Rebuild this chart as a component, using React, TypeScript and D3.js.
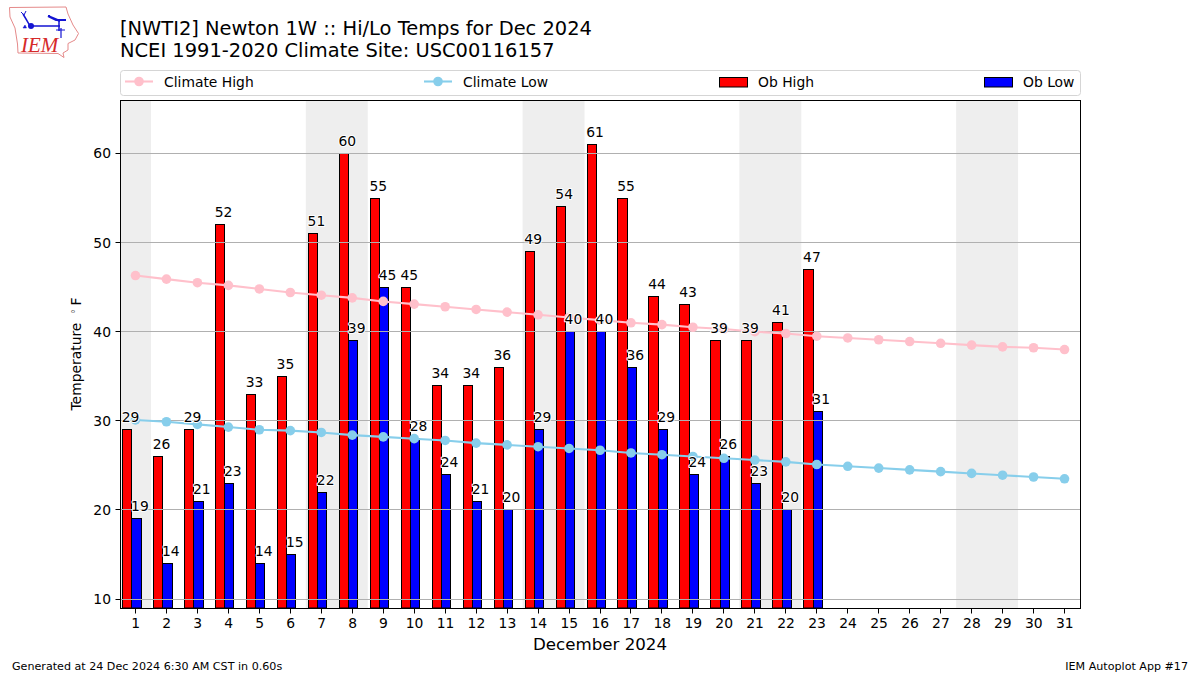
import React from "react";
import * as d3 from "d3";

const days = d3.range(1, 32);
const obHigh = [29, 26, 29, 52, 33, 35, 51, 60, 55, 45, 34, 34, 36, 49, 54, 61, 55, 44, 43, 39, 39, 41, 47];
const obLow = [19, 14, 21, 23, 14, 15, 22, 39, 45, 28, 24, 21, 20, 29, 40, 40, 36, 29, 24, 26, 23, 20, 31];
const climateHigh = [46.3, 45.9, 45.5, 45.2, 44.8, 44.4, 44.1, 43.8, 43.4, 43.1, 42.8, 42.5, 42.2, 41.9, 41.6, 41.3, 41.0, 40.8, 40.5, 40.3, 40.0, 39.8, 39.5, 39.3, 39.1, 38.9, 38.7, 38.5, 38.3, 38.2, 38.0];
const climateLow = [30.1, 29.9, 29.6, 29.3, 29.0, 28.9, 28.7, 28.4, 28.2, 28.0, 27.8, 27.5, 27.3, 27.1, 26.9, 26.7, 26.4, 26.2, 26.0, 25.8, 25.6, 25.4, 25.1, 24.9, 24.7, 24.5, 24.3, 24.1, 23.9, 23.7, 23.5];
const weekends: [number, number][] = [[0.5, 1.5], [6.5, 8.5], [13.5, 15.5], [20.5, 22.5], [27.5, 29.5]];
const yTicks = [10, 20, 30, 40, 50, 60];

const FONT = "'DejaVu Sans', sans-serif";
const x = d3.scaleLinear().domain([0.5, 31.5]).range([120, 1080]);
const y = d3.scaleLinear().domain([9, 66]).range([608, 100]);
const line = d3.line<number>().x((_, i) => x(days[i])).y((d) => y(d));
const barW = 0.3;
const redOff = -0.435;
const blueOff = redOff + barW;
const snap = (v: number) => Math.round(v) + 0.5;
const snapY = (v: number) => Math.floor(v) + 0.5;

function Series({ values, color }: { values: number[]; color: string }) {
  return (
    <g>
      <path d={line(values) ?? ""} fill="none" stroke={color} strokeWidth={2.08} />
      {values.map((v, i) => (
        <circle key={i} cx={x(days[i])} cy={y(v)} r={4.8} fill={color} />
      ))}
    </g>
  );
}

function Bars({ values, off, color }: { values: number[]; off: number; color: string }) {
  return (
    <g>
      {values.map((v, i) => {
        const x0 = snap(x(days[i] + off));
        const x1 = snap(x(days[i] + off + barW));
        const top = snapY(y(v));
        return (
          <rect key={i} x={x0} y={top} width={x1 - x0} height={608 - top} fill={color} stroke="#000" strokeWidth={1} />
        );
      })}
    </g>
  );
}

function Labels({ values, off }: { values: number[]; off: number }) {
  return (
    <g fontSize={13.89} textAnchor="middle">
      {values.map((v, i) => (
        <text
          key={i}
          x={x(days[i] + off + barW) - 0.7}
          y={y(v) - 7.5}
          fill="#000"
          stroke="#fff"
          strokeWidth={2}
          paintOrder="stroke"
          strokeLinejoin="round"
        >
          {v}
        </text>
      ))}
    </g>
  );
}

function Logo() {
  return (
    <g>
      <path
        d="M9.5,7.5 L66,7 L68,14 L73,25 L78.5,33.5 L75,40 L68,43.5 L68,50 L63,53 L64,57.5 L58,53.5 L18,53 L17.5,44 L15,28 L10,17 Z"
        fill="#fff"
        stroke="#e58a8a"
        strokeWidth={1}
      />
      <g stroke="#1414d2" fill="none">
        <path d="M30,26 H60 M59,21 V31 M23,14 L26,19 L30,26" strokeWidth={1.5} />
        <path d="M21,12 L24,15 M26,11 L24,15" strokeWidth={1} />
        <path d="M48,16 L56,20 H66 M48,16 L60,21" strokeWidth={2} />
        <circle cx={31} cy={26} r={3} fill="#1414d2" stroke="none" />
        <path d="M56,30 H65 M61,28 V38" strokeWidth={1.2} />
        <path d="M23,28 l2,-3 l1.5,3 z" fill="#1414d2" strokeWidth={0.5} />
      </g>
      <text x={21} y={52} fontFamily="'Liberation Serif', serif" fontStyle="italic" fontSize={21} fill="#d62a2a">
        IEM
      </text>
    </g>
  );
}

export default function App() {
  return (
    <svg
      width={1200}
      height={675}
      viewBox="0 0 1200 675"
      style={{ position: "absolute", left: 0, top: 0, display: "block", background: "#fff" }}
      fontFamily={FONT}
    >
      <Logo />
      <text x={120} y={35} fontSize={19.44}>[NWTI2] Newton 1W :: Hi/Lo Temps for Dec 2024</text>
      <text x={120} y={57} fontSize={19.44}>NCEI 1991-2020 Climate Site: USC00116157</text>

      {/* legend */}
      <rect x={120.5} y={70.5} width={960} height={25} rx={3} fill="#fff" stroke="#d5d5d5" strokeWidth={1} />
      <g fontSize={13.89}>
        <path d="M125,81.5 H153" stroke="pink" strokeWidth={2.08} />
        <circle cx={139} cy={81.5} r={4.8} fill="pink" />
        <text x={164} y={86.5}>Climate High</text>
        <path d="M424,81.5 H452" stroke="skyblue" strokeWidth={2.08} />
        <circle cx={438} cy={81.5} r={4.8} fill="skyblue" />
        <text x={463} y={86.5}>Climate Low</text>
        <rect x={719.5} y={77.5} width={28} height={9.5} fill="red" stroke="#000" />
        <text x={758} y={86.5}>Ob High</text>
        <rect x={984.5} y={77.5} width={28} height={9.5} fill="blue" stroke="#000" />
        <text x={1023} y={86.5}>Ob Low</text>
      </g>

      {/* shaded weekends */}
      {weekends.map(([a, b]) => (
        <rect key={a} x={x(a)} y={100} width={x(b) - x(a)} height={508} fill="#eeeeee" />
      ))}

      <Bars values={obHigh} off={redOff} color="red" />
      <Bars values={obLow} off={blueOff} color="blue" />

      {/* gridlines */}
      {yTicks.map((t) => (
        <line key={t} x1={120} x2={1080} y1={snapY(y(t))} y2={snapY(y(t))} stroke="#b0b0b0" strokeWidth={1} />
      ))}

      <Series values={climateHigh} color="pink" />
      <Series values={climateLow} color="skyblue" />

      <Labels values={obHigh} off={redOff} />
      <Labels values={obLow} off={blueOff} />

      {/* frame and ticks */}
      <rect x={120.5} y={100.5} width={960} height={508} fill="none" stroke="#000" strokeWidth={1} />
      {yTicks.map((t) => (
        <g key={t}>
          <line x1={115.5} x2={120.5} y1={snapY(y(t))} y2={snapY(y(t))} stroke="#000" />
          <text x={111} y={y(t) + 5} fontSize={13.89} textAnchor="end">{t}</text>
        </g>
      ))}
      {days.map((d) => (
        <g key={d}>
          <line x1={Math.floor(x(d)) + 0.5} x2={Math.floor(x(d)) + 0.5} y1={608.5} y2={613.5} stroke="#000" />
          <text x={x(d) + 0.3} y={628} fontSize={13.89} textAnchor="middle">{d}</text>
        </g>
      ))}

      <text x={600} y={650} fontSize={16.67} textAnchor="middle">December 2024</text>
      <text transform="translate(80.5,410.5) rotate(-90)" fontSize={13.89}>
        Temperature
        <tspan x={96.5} dy={-2} fontSize={10} fill="#555">°</tspan>
        <tspan x={105} dy={2}>F</tspan>
      </text>

      <text x={12} y={670} fontSize={11.12}>Generated at 24 Dec 2024 6:30 AM CST in 0.60s</text>
      <text x={1188} y={670} fontSize={11.12} textAnchor="end">IEM Autoplot App #17</text>
    </svg>
  );
}
